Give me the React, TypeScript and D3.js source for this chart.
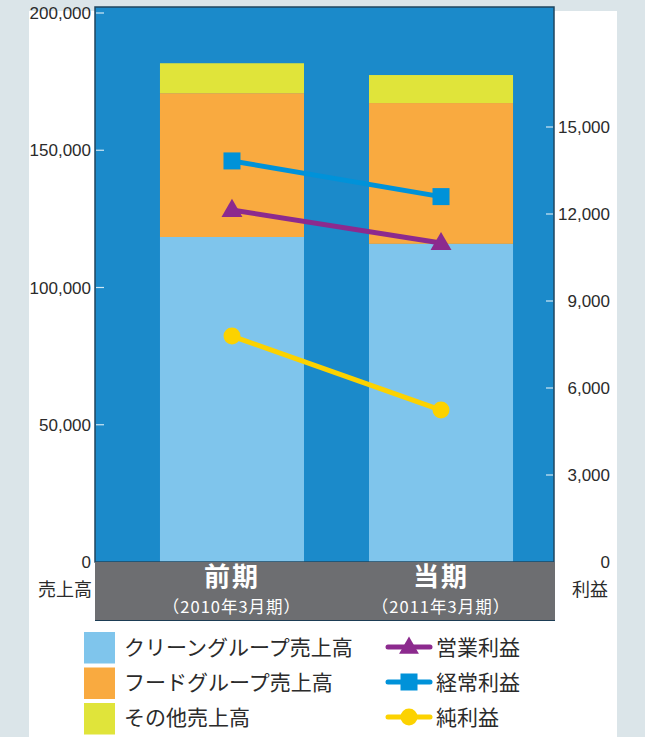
import React from "react";
import * as d3 from "d3";

const periods = ["前期", "当期"];
const periodSubs = ["（2010年3月期）", "（2011年3月期）"];
const cleaningSales = [118400, 115900];
const foodSales = [52400, 51300];
const otherSales = [10900, 10200];
const operatingProfit = [12140, 11000];
const ordinaryProfit = [13830, 12600];
const netProfit = [7790, 5240];
const leftTicks = [0, 50000, 100000, 150000, 200000];
const rightTicks = [0, 3000, 6000, 9000, 12000, 15000];
const barNames = ["クリーングループ売上高", "フードグループ売上高", "その他売上高"];
const lineNames = ["営業利益", "経常利益", "純利益"];

const W = 645, H = 737;
const plotL = 95, plotR = 554, plotT = 7, plotB = 562;
const C = {
  bg: "#dbe5e9",
  plot: "#1b8aca",
  light: "#7fc5ec",
  orange: "#f9aa40",
  lime: "#e0e43a",
  grey: "#6d6e71",
  sq: "#0092d9",
  purple: "#8c2a8e",
  yellow: "#fcd200",
  text: "#2b2b2b",
};
const numFont = "'Liberation Sans', Arial, Helvetica, sans-serif";
const jpFont = "'Noto Sans CJK JP', 'Noto Sans', sans-serif";

export default function App() {
  const x = d3.scaleBand<string>().domain(periods).range([119, plotR]).paddingInner(0.311).paddingOuter(0.196);
  const yL = d3.scaleLinear().domain([0, 200000]).range([plotB, 13]);
  const yR = d3.scaleLinear().domain([0, 15000]).range([plotB, 127]);
  const fmt = d3.format(",");

  const stackData = periods.map((p, i) => ({ p, a: cleaningSales[i], b: foodSales[i], c: otherSales[i] }));
  const stack = d3.stack<any>().keys(["a", "b", "c"])(stackData);
  const fills = [C.light, C.orange, C.lime];
  const cx = (i: number) => (x(periods[i]) as number) + x.bandwidth() / 2;
  const line = d3.line<number>().x((_, i) => cx(i)).y((v) => yR(v));

  const tri = d3.symbol().type(d3.symbolTriangle).size(190)();
  const triSmall = d3.symbol().type(d3.symbolTriangle).size(170)();

  const series = [
    { data: operatingProfit, color: C.purple, kind: "tri" },
    { data: ordinaryProfit, color: C.sq, kind: "sq" },
    { data: netProfit, color: C.yellow, kind: "circ" },
  ];
  const drawOrder = [2, 0, 1];

  const marker = (kind: string, px: number, py: number, color: string, small = false) => {
    if (kind === "tri") return <path d={(small ? triSmall : tri) as string} transform={`translate(${px},${py + 1})`} fill={color} />;
    if (kind === "sq") return <rect x={px - 8.5} y={py - 8.5} width={17} height={17} fill={color} />;
    return <circle cx={px} cy={py} r={8.5} fill={color} />;
  };

  return (
    <svg width={W} height={H} style={{ position: "absolute", left: 0, top: 0 }}>
      <rect x={0} y={0} width={W} height={H} fill={C.bg} />
      <rect x={29} y={11} width={588} height={H - 11} fill="#ffffff" />
      <rect x={plotL} y={plotT} width={plotR - plotL} height={plotB - plotT} fill={C.plot} />
      {stack.map((s, k) =>
        s.map((d, i) => (
          <rect key={`${k}-${i}`} x={x(periods[i])} y={yL(d[1])} width={x.bandwidth()} height={yL(d[0]) - yL(d[1])} fill={fills[k]} />
        ))
      )}
      {drawOrder.map((si) => {
        const s = series[si];
        return (
          <g key={si}>
            <path d={line(s.data) as string} fill="none" stroke={s.color} strokeWidth={5} />
            {s.data.map((v, i) => <g key={i}>{marker(s.kind, cx(i), yR(v), s.color)}</g>)}
          </g>
        );
      })}
      {leftTicks.map((t) => (
        <g key={t}>
          {t > 0 && <line x1={plotL + 1} x2={plotL + 9} y1={yL(t)} y2={yL(t)} stroke="#ffffff" strokeOpacity={0.8} strokeWidth={1.2} />}
          <text x={91} y={yL(t)} dy="0.36em" textAnchor="end" fontFamily={numFont} fontSize={17} fill={C.text}>{fmt(t)}</text>
        </g>
      ))}
      {rightTicks.map((t) => (
        <g key={t}>
          {t > 0 && <line x1={plotR - 8} x2={plotR - 1} y1={yR(t)} y2={yR(t)} stroke="#ffffff" strokeOpacity={0.8} strokeWidth={1.2} />}
          <text x={610} y={yR(t)} dy="0.36em" textAnchor="end" fontFamily={numFont} fontSize={17} fill={C.text}>{fmt(t)}</text>
        </g>
      ))}
      <rect x={plotL} y={plotT} width={plotR - plotL} height={plotB - plotT} fill="none" stroke="#21465f" strokeWidth={1.5} />
      <rect x={95} y={562} width={460} height={58} fill={C.grey} />
      <line x1={95} x2={555} y1={620.5} y2={620.5} stroke="#1d3d55" strokeWidth={1.2} />
      {periods.map((p, i) => (
        <g key={p}>
          <text x={cx(i)} y={577} dy="0.35em" textAnchor="middle" fontFamily={jpFont} fontWeight={700} fontSize={26} letterSpacing={2} fill="#ffffff">{p}</text>
          <text x={cx(i)} y={607} dy="0.35em" textAnchor="middle" fontFamily={jpFont} fontSize={16.5} letterSpacing={1} fill="#ffffff">{periodSubs[i]}</text>
        </g>
      ))}
      <text x={92} y={590} dy="0.36em" textAnchor="end" fontFamily={jpFont} fontSize={18} fill={C.text}>売上高</text>
      <text x={572} y={590} dy="0.36em" textAnchor="start" fontFamily={jpFont} fontSize={18} fill={C.text}>利益</text>
      {barNames.map((n, i) => (
        <g key={n}>
          <rect x={84} y={632 + i * 35.5} width={31} height={31.5} fill={fills[i]} />
          <text x={124} y={647 + i * 35} dy="0.36em" fontFamily={jpFont} fontSize={21} fill={C.text}>{n}</text>
        </g>
      ))}
      {lineNames.map((n, i) => {
        const s = series[i];
        const y = 647 + i * 35;
        return (
          <g key={n}>
            <line x1={388} x2={430} y1={y} y2={y} stroke={s.color} strokeWidth={5} strokeLinecap="round" />
            {marker(s.kind, 409, y, s.color, true)}
            <text x={436} y={y} dy="0.36em" fontFamily={jpFont} fontSize={21} fill={C.text}>{n}</text>
          </g>
        );
      })}
    </svg>
  );
}
